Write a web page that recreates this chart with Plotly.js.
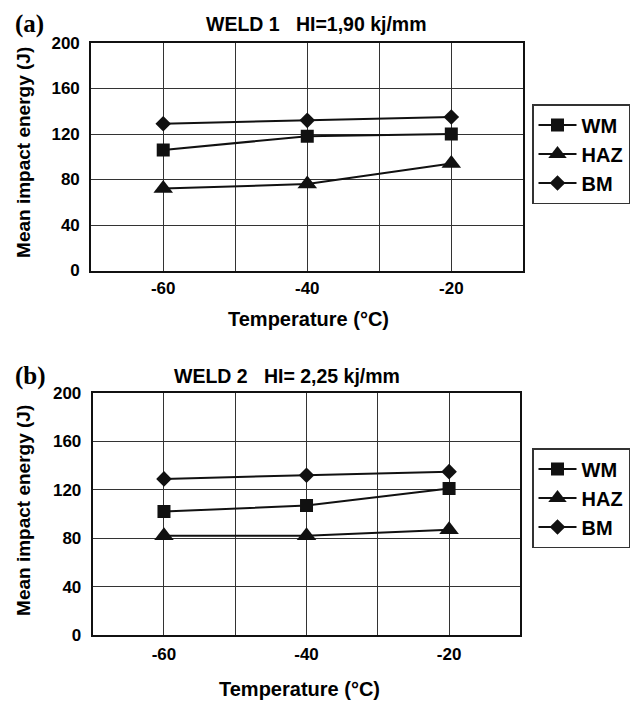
<!DOCTYPE html>
<html>
<head>
<meta charset="utf-8">
<script src="https://cdn.plot.ly/plotly-3.0.1.min.js"></script>
<style>html,body{margin:0;padding:0;background:#fff;}#chart{width:630px;height:701px;}</style>
</head>
<body>
<div id="chart"></div>
<script>
var temperatures = [-60, -40, -20];
var seriesNames = ["WM", "HAZ", "BM"];
var weld1WM = [106, 118, 120];
var weld1HAZ = [72, 76, 94];
var weld1BM = [129, 132, 135];
var weld2WM = [102, 107, 121];
var weld2HAZ = [82, 82, 87];
var weld2BM = [129, 132, 135];
var xTickVals = [-60, -40, -20];
var xTickText = ["-60", "-40", "-20"];
var yTickVals = [0, 40, 80, 120, 160, 200];

var W = 630, H = 701;
function px(x){ return x / W; }
function py(y){ return 1 - y / H; }

var symbols = ["square", "triangle-up", "diamond"];
var sizes = [13, 17, 12];

function mk(xs, ys, i, xa, ya, leg){
  return {
    x: xs, y: ys, name: seriesNames[i], type: "scatter", mode: "lines+markers",
    xaxis: xa, yaxis: ya, legend: leg,
    line: {color: "#111", width: 2},
    marker: {symbol: symbols[i], size: sizes[i], color: "#111"}
  };
}

var data = [
  mk(temperatures, weld1WM, 0, "x", "y", "legend"),
  mk(temperatures, weld1HAZ, 1, "x", "y", "legend"),
  mk(temperatures, weld1BM, 2, "x", "y", "legend"),
  mk(temperatures, weld2WM, 0, "x2", "y2", "legend2"),
  mk(temperatures, weld2HAZ, 1, "x2", "y2", "legend2"),
  mk(temperatures, weld2BM, 2, "x2", "y2", "legend2")
];

var tickFont = {family: "Liberation Sans, Arial, sans-serif", size: 17, color: "#000", weight: 700};

function xaxis(domain, anchor, standoff){
  return {
    domain: domain, anchor: anchor, range: [-70, -10],
    tickmode: "array", tickvals: xTickVals, ticktext: xTickText,
    showgrid: true, gridcolor: "#333", gridwidth: 1,
    minor: {dtick: 10, tick0: -70, showgrid: true, gridcolor: "#333", gridwidth: 1, ticks: ""},
    ticks: "", ticklabelstandoff: standoff,
    showline: true, linecolor: "#111", linewidth: 2, mirror: true,
    zeroline: false, tickfont: tickFont, fixedrange: true
  };
}
function yaxis(domain, anchor){
  return {
    domain: domain, anchor: anchor, range: [0, 200],
    tickmode: "array", tickvals: yTickVals,
    showgrid: true, gridcolor: "#333", gridwidth: 1,
    ticks: "outside", ticklen: 4, tickcolor: "rgba(0,0,0,0)", ticklabelstandoff: 2,
    showline: true, linecolor: "#111", linewidth: 2, mirror: true,
    zeroline: false, tickfont: tickFont, fixedrange: true
  };
}

var legFont = {family: "Liberation Sans, Arial, sans-serif", size: 20, color: "#000", weight: 700};
function legend(x, y){
  return {
    x: px(x), y: py(y), xanchor: "left", yanchor: "top",
    bgcolor: "#fff", bordercolor: "#333", borderwidth: 1.5,
    font: legFont, tracegroupgap: 0, itemwidth: 38
  };
}

var titleFont = {family: "Liberation Sans, Arial, sans-serif", size: 19.5, color: "#000", weight: 700};
var axTitleFont = {family: "Liberation Sans, Arial, sans-serif", size: 20, color: "#000", weight: 700};
var yTitleFont = {family: "Liberation Sans, Arial, sans-serif", size: 19, color: "#000", weight: 700};
var labelFont = {family: "Liberation Serif, Times New Roman, serif", size: 25, color: "#000", weight: 700};

function ann(text, x, y, font, angle){
  var a = {text: text, xref: "paper", yref: "paper", x: px(x), y: py(y),
    xanchor: "center", yanchor: "middle", showarrow: false, font: font};
  if (angle !== undefined) a.textangle = angle;
  return a;
}

var layout = {
  width: W, height: H,
  margin: {l: 0, r: 0, t: 0, b: 0},
  paper_bgcolor: "#fff", plot_bgcolor: "#fff",
  font: {family: "Liberation Sans, Arial, sans-serif", color: "#000"},
  showlegend: true,
  xaxis: xaxis([px(91.5), px(525)], "y", 1),
  yaxis: yaxis([py(270.5), py(43)], "x"),
  xaxis2: xaxis([px(93), px(522)], "y2", 3),
  yaxis2: yaxis([py(635), py(393)], "x2"),
  legend: legend(534, 104),
  legend2: legend(534, 448),
  annotations: [
    ann("(a)", 30, 24, labelFont),
    ann("WELD 1   HI=1,90 kj/mm", 318, 24, titleFont),
    ann("Mean impact energy (J)", 23, 152, yTitleFont, -90),
    ann("Temperature (°C)", 309, 319, axTitleFont),
    ann("(b)", 31, 376, labelFont),
    ann("WELD 2   HI= 2,25 kj/mm", 288, 376, titleFont),
    ann("Mean impact energy (J)", 23, 510, yTitleFont, -90),
    ann("Temperature (°C)", 300, 689, axTitleFont)
  ]
};

Plotly.newPlot("chart", data, layout, {displayModeBar: false, staticPlot: true});
</script>
</body>
</html>
